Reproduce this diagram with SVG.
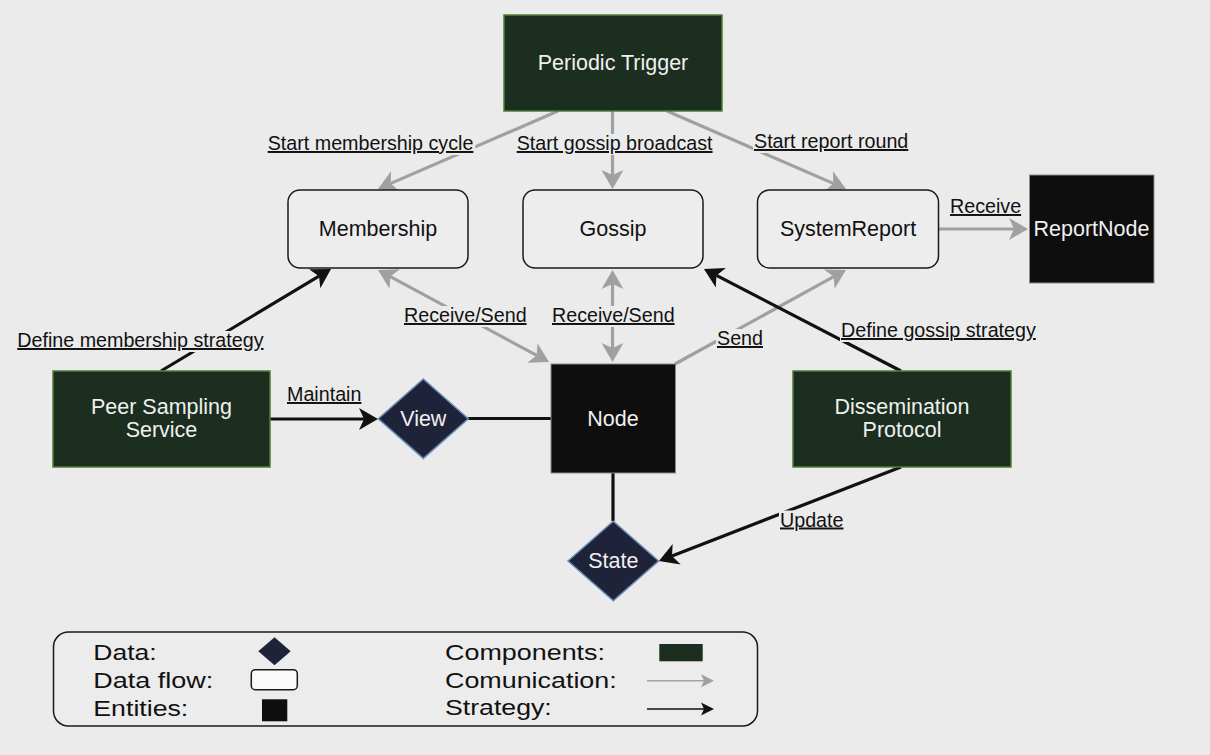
<svg xmlns="http://www.w3.org/2000/svg" width="1210" height="755" viewBox="0 0 1210 755">
<style>
text{font-family:"Liberation Sans",Arial,Helvetica,sans-serif;}
.bg{fill:#ebebeb;}
.comp{fill:#1b2e1f;stroke:#4f7d38;stroke-width:1.5;}
.ent{fill:#0e0e0e;stroke:#8a8a8a;stroke-width:1;}
.flow{fill:#ededed;stroke:#1a1a1a;stroke-width:1.5;}
.data{fill:#1e2339;stroke:#6a8cb8;stroke-width:1.5;}
.nt{font-size:21.5px;text-anchor:middle;}
.lt{fill:#f0f0f0;}
.dt{fill:#111;}
.gl{stroke:#a0a0a0;stroke-width:3.2;fill:none;}
.bl{stroke:#111;stroke-width:3.2;fill:none;}
.lbl{font-size:19.7px;fill:#111;text-decoration:underline;text-decoration-color:#666;}
.lbg{fill:#ebebeb;}
.leg{font-size:22px;fill:#111;}
</style>
<defs>
<marker id="ag" markerUnits="userSpaceOnUse" markerWidth="20" markerHeight="24" viewBox="0 -12 20 24" refX="5" refY="0" orient="auto-start-reverse" overflow="visible"><path d="M0,-11 L19,0 L0,11 L5,0 Z" fill="#a0a0a0"/></marker>
<marker id="ab" markerUnits="userSpaceOnUse" markerWidth="20" markerHeight="24" viewBox="0 -12 20 24" refX="5" refY="0" orient="auto-start-reverse" overflow="visible"><path d="M0,-11 L19,0 L0,11 L5,0 Z" fill="#111"/></marker>
<marker id="agS" markerUnits="userSpaceOnUse" markerWidth="14" markerHeight="14" viewBox="0 -7 14 14" refX="3" refY="0" orient="auto" overflow="visible"><path d="M0,-6.5 L13,0 L0,6.5 L3,0 Z" fill="#a0a0a0"/></marker>
<marker id="abS" markerUnits="userSpaceOnUse" markerWidth="14" markerHeight="14" viewBox="0 -7 14 14" refX="3" refY="0" orient="auto" overflow="visible"><path d="M0,-6.5 L13,0 L0,6.5 L3,0 Z" fill="#111"/></marker>
</defs>
<rect class="bg" x="0" y="0" width="1210" height="755"/>

<g id="connectors">
  <g id="e-pt-membership">
    <path class="gl" d="M558,111 L390.8,183.4" marker-end="url(#ag)"/>
    <rect class="lbg" x="266.7" y="134" width="208.6" height="21"/>
    <text class="lbl" x="267.7" y="150">Start membership cycle</text>
  </g>
  <g id="e-pt-gossip">
    <path class="gl" d="M612.5,111 L612.5,175" marker-end="url(#ag)"/>
    <rect class="lbg" x="515.7" y="134" width="198.6" height="21"/>
    <text class="lbl" x="516.7" y="150">Start gossip broadcast</text>
  </g>
  <g id="e-pt-report">
    <path class="gl" d="M667,111 L833.2,183.4" marker-end="url(#ag)"/>
    <rect class="lbg" x="753" y="132" width="157" height="21"/>
    <text class="lbl" x="754" y="148">Start report round</text>
  </g>
  <g id="e-report-reportnode">
    <path class="gl" d="M938,229 L1014,229" marker-end="url(#ag)"/>
    <rect class="lbg" x="949" y="197" width="73" height="21"/>
    <text class="lbl" x="950" y="213">Receive</text>
  </g>
  <g id="e-membership-node">
    <path class="gl" d="M390.3,276.6 L536.7,355.4" marker-start="url(#ag)" marker-end="url(#ag)"/>
    <rect class="lbg" x="403" y="306" width="124.7" height="21"/>
    <text class="lbl" x="404" y="322">Receive/Send</text>
  </g>
  <g id="e-gossip-node">
    <path class="gl" d="M612.5,284 L612.5,348" marker-start="url(#ag)" marker-end="url(#ag)"/>
    <rect class="lbg" x="551" y="306" width="125" height="21"/>
    <text class="lbl" x="552" y="322">Receive/Send</text>
  </g>
  <g id="e-node-report">
    <path class="gl" d="M675,364 L833.7,276.7" marker-end="url(#ag)"/>
    <rect class="lbg" x="716" y="329" width="48" height="21"/>
    <text class="lbl" x="717" y="345">Send</text>
  </g>
  <g id="e-diss-gossip">
    <path class="bl" d="M901,371 L716.4,275.4" marker-end="url(#ab)"/>
    <rect class="lbg" x="840" y="321" width="198" height="21"/>
    <text class="lbl" x="841" y="337">Define gossip strategy</text>
  </g>
  <g id="e-peer-membership">
    <path class="bl" d="M161,371 L319,276.2" marker-end="url(#ab)"/>
    <rect class="lbg" x="16.3" y="331" width="252" height="21"/>
    <text class="lbl" x="17.3" y="347">Define membership strategy</text>
  </g>
  <g id="e-peer-view">
    <path class="bl" d="M270,419 L364,419" marker-end="url(#ab)"/>
    <rect class="lbg" x="286" y="385" width="76" height="21"/>
    <text class="lbl" x="287" y="401">Maintain</text>
  </g>
  <g id="e-view-node">
    <path class="bl" d="M468,418.5 L551,418.5"/>
  </g>
  <g id="e-node-state">
    <path class="bl" d="M613,473 L613,521"/>
  </g>
  <g id="e-diss-state">
    <path class="bl" d="M901,467 L672,556" marker-end="url(#ab)"/>
    <rect class="lbg" x="779" y="510.5" width="65.6" height="21"/>
    <text class="lbl" x="780" y="526.5">Update</text>
  </g>
</g>

<g id="periodic-trigger">
  <rect class="comp" x="504" y="15" width="218" height="96"/>
  <text class="nt lt" x="613" y="70">Periodic Trigger</text>
</g>
<g id="membership">
  <rect class="flow" x="288" y="190" width="180" height="78" rx="12"/>
  <text class="nt dt" x="378" y="236">Membership</text>
</g>
<g id="gossip">
  <rect class="flow" x="523" y="190" width="180" height="78" rx="12"/>
  <text class="nt dt" x="613" y="236">Gossip</text>
</g>
<g id="system-report">
  <rect class="flow" x="757.5" y="190" width="181" height="78" rx="12"/>
  <text class="nt dt" x="848" y="236">SystemReport</text>
</g>
<g id="report-node">
  <rect class="ent" x="1029.5" y="175" width="124.5" height="108"/>
  <text class="nt lt" x="1091.5" y="236">ReportNode</text>
</g>
<g id="peer-sampling">
  <rect class="comp" x="53" y="371" width="217" height="96"/>
  <text class="nt lt" x="161.5" y="414">Peer Sampling</text>
  <text class="nt lt" x="161.5" y="437">Service</text>
</g>
<g id="view">
  <path class="data" d="M423.3,379 L468.3,418.7 L423.3,458.4 L378.3,418.7 Z"/>
  <text class="nt lt" x="423.3" y="425.5">View</text>
</g>
<g id="node">
  <rect class="ent" x="551" y="364" width="124.5" height="109"/>
  <text class="nt lt" x="613" y="426">Node</text>
</g>
<g id="dissemination">
  <rect class="comp" x="793" y="371" width="218" height="96"/>
  <text class="nt lt" x="902" y="414">Dissemination</text>
  <text class="nt lt" x="902" y="437">Protocol</text>
</g>
<g id="state">
  <path class="data" d="M613.3,521.3 L658.6,561 L613.3,600.7 L568,561 Z"/>
  <text class="nt lt" x="613.3" y="567.5">State</text>
</g>

<g id="legend">
  <rect x="53.5" y="632" width="704" height="94" rx="15" fill="#ececec" stroke="#1a1a1a" stroke-width="1.5"/>
  <text class="leg" x="93.3" y="659.7" textLength="63.4" lengthAdjust="spacingAndGlyphs">Data:</text>
  <text class="leg" x="93.3" y="688" textLength="120" lengthAdjust="spacingAndGlyphs">Data flow:</text>
  <text class="leg" x="93.3" y="716.3" textLength="95" lengthAdjust="spacingAndGlyphs">Entities:</text>
  <path d="M274.5,637.3 L290.7,651.3 L274.5,665.3 L258.3,651.3 Z" fill="#1e2339"/>
  <rect x="251.3" y="669.7" width="46" height="20" rx="4" fill="#fafafa" stroke="#1a1a1a" stroke-width="1.5"/>
  <rect x="262" y="699.3" width="25.3" height="22" fill="#0e0e0e"/>
  <text class="leg" x="445" y="659.7" textLength="160" lengthAdjust="spacingAndGlyphs">Components:</text>
  <text class="leg" x="445" y="687.5" textLength="171.7" lengthAdjust="spacingAndGlyphs">Comunication:</text>
  <text class="leg" x="445" y="714.7" textLength="106.7" lengthAdjust="spacingAndGlyphs">Strategy:</text>
  <rect x="659.3" y="644" width="43.4" height="17.3" fill="#1b2e1f"/>
  <path d="M647,680.7 L704,680.7" stroke="#a3a3a3" stroke-width="1.5" marker-end="url(#agS)"/>
  <path d="M647,709 L704,709" stroke="#111" stroke-width="1.5" marker-end="url(#abS)"/>
</g>
</svg>
